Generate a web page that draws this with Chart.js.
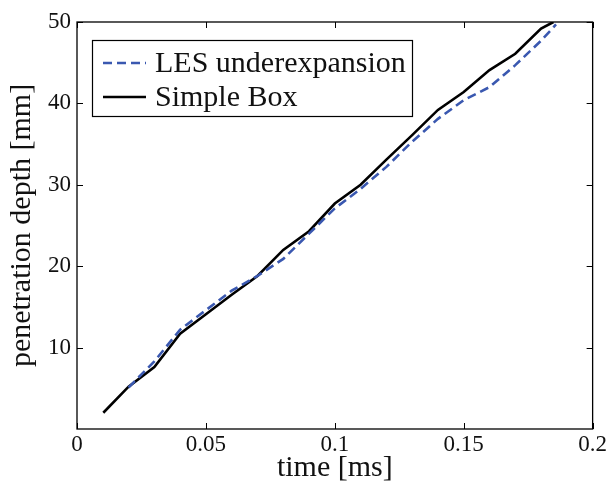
<!DOCTYPE html>
<html>
<head>
<meta charset="utf-8">
<script src="https://cdn.jsdelivr.net/npm/chart.js@4.4.1/dist/chart.umd.min.js"></script>
<style>
  html, body { margin: 0; padding: 0; background: #fff; }
  #wrap { width: 609px; height: 486px; }
</style>
</head>
<body>
<div id="wrap"><canvas id="penChart" width="609" height="486"></canvas></div>
<script>
// values
let lesTime = [0.02, 0.03, 0.04, 0.05, 0.06, 0.07, 0.08, 0.09, 0.10, 0.11, 0.12, 0.13, 0.14, 0.15, 0.16, 0.17, 0.18, 0.1858];
let lesDepth = [5.1, 8.3, 12.2, 14.6, 17.0, 18.8, 20.9, 24.0, 27.1, 29.5, 32.2, 35.3, 38.1, 40.4, 42.0, 44.7, 47.7, 49.7];
let boxTime = [0.0102, 0.02, 0.03, 0.04, 0.05, 0.06, 0.07, 0.08, 0.09, 0.10, 0.11, 0.12, 0.13, 0.14, 0.15, 0.16, 0.17, 0.18, 0.1848];
let boxDepth = [2.0, 5.2, 7.6, 11.7, 14.1, 16.5, 18.8, 22.0, 24.3, 27.7, 30.0, 33.1, 36.1, 39.2, 41.4, 44.1, 46.1, 49.2, 50.0];
let seriesNames = ["LES underexpansion", "Simple Box"];
let xTicks = [0, 0.05, 0.1, 0.15, 0.2];
let yTicks = [10, 20, 30, 40, 50];

const serif = "'Liberation Serif', 'DejaVu Serif', serif";

function toPoints(xs, ys) {
  return xs.map((x, i) => ({ x: x, y: ys[i] }));
}

// box round the plot + inward tick marks on all four sides
const frame = {
  id: "frame",
  afterDraw(chart) {
    const ctx = chart.ctx;
    const a = chart.chartArea;
    const xs = chart.scales.x, ys = chart.scales.y;
    ctx.save();
    ctx.strokeStyle = "#000";
    ctx.lineWidth = 1.3;
    ctx.strokeRect(a.left, a.top, a.right - a.left, a.bottom - a.top);
    ctx.lineWidth = 1;
    ctx.beginPath();
    xTicks.forEach((v) => {
      let px = Math.round(xs.getPixelForValue(v)) + 0.5;
      ctx.moveTo(px, a.bottom); ctx.lineTo(px, a.bottom - 6);
      ctx.moveTo(px, a.top); ctx.lineTo(px, a.top + 6);
    });
    yTicks.forEach((v) => {
      let py = Math.round(ys.getPixelForValue(v)) + 0.5;
      ctx.moveTo(a.left, py); ctx.lineTo(a.left + 6, py);
      ctx.moveTo(a.right, py); ctx.lineTo(a.right - 6, py);
    });
    ctx.stroke();

    // legend box in the upper left
    const bx = 92, by = 40, bw = 320, bh = 76;
    ctx.fillStyle = "#fff";
    ctx.fillRect(bx, by, bw, bh);
    ctx.lineWidth = 1.2;
    ctx.strokeStyle = "#000";
    ctx.strokeRect(bx + 0.5, by + 0.5, bw, bh);
    chart.data.datasets.forEach((ds, i) => {
      let rowY = by + 23 + i * 34;
      ctx.beginPath();
      ctx.strokeStyle = ds.borderColor;
      ctx.lineWidth = ds.borderWidth;
      ctx.setLineDash(ds.borderDash || []);
      ctx.moveTo(103, rowY);
      ctx.lineTo(146, rowY);
      ctx.stroke();
      ctx.setLineDash([]);
      ctx.fillStyle = "#111";
      ctx.font = "30px " + serif;
      ctx.textBaseline = "middle";
      ctx.fillText(ds.label, 155, rowY + 1);
    });
    ctx.restore();
  },
};

let ctx = document.getElementById("penChart").getContext("2d");
let chart = new Chart(ctx, {
  type: "line",
  data: {
    datasets: [
      {
        label: seriesNames[0],
        data: toPoints(lesTime, lesDepth),
        borderColor: "#3a58b0",
        borderWidth: 2.6,
        borderDash: [9, 5],
        pointRadius: 0,
        fill: false,
        tension: 0,
      },
      {
        label: seriesNames[1],
        data: toPoints(boxTime, boxDepth),
        borderColor: "#000000",
        borderWidth: 2.6,
        pointRadius: 0,
        fill: false,
        tension: 0,
      },
    ],
  },
  options: {
    responsive: false,
    animation: false,
    events: [],
    layout: { padding: { left: 0, right: 15, top: 22, bottom: 0 } },
    plugins: {
      legend: { display: false },
      tooltip: { enabled: false },
    },
    scales: {
      x: {
        type: "linear",
        min: 0,
        max: 0.2,
        afterBuildTicks: (s) => { s.ticks = xTicks.map((v) => ({ value: v })); },
        afterFit: (s) => { s.height = 57; },
        grid: { display: false, drawTicks: false },
        border: { display: false },
        ticks: {
          color: "#111",
          padding: 2,
          maxRotation: 0,
          font: { family: serif, size: 23 },
          callback: (v) => String(Number(v.toFixed(2))),
        },
        title: {
          display: true,
          text: "time [ms]",
          color: "#111",
          padding: { top: 0, bottom: 0 },
          font: { family: serif, size: 30 },
        },
      },
      y: {
        min: 0,
        max: 50,
        afterBuildTicks: (s) => { s.ticks = yTicks.map((v) => ({ value: v })); },
        afterFit: (s) => { s.width = 77; },
        grid: { display: false, drawTicks: false },
        border: { display: false },
        ticks: {
          color: "#111",
          padding: 6,
          font: { family: serif, size: 23 },
        },
        title: {
          display: true,
          text: "penetration depth [mm]",
          color: "#111",
          padding: { top: 4, bottom: 0 },
          font: { family: serif, size: 30 },
        },
      },
    },
  },
  plugins: [frame],
});
</script>
</body>
</html>
